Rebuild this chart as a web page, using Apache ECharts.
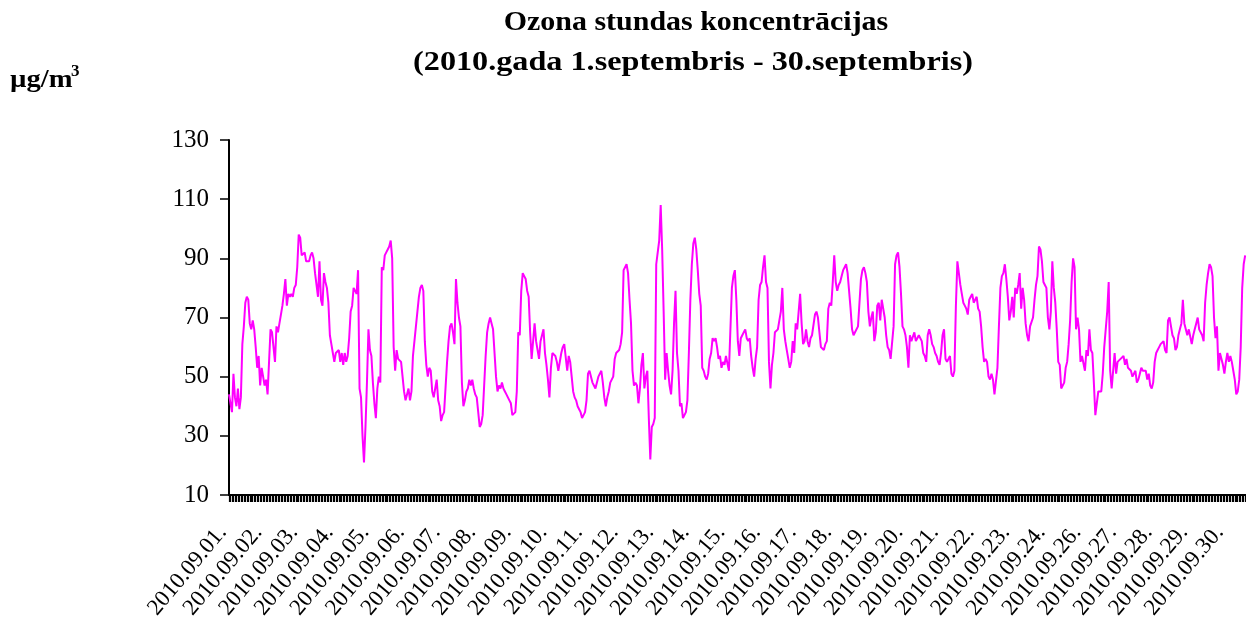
<!DOCTYPE html>
<html>
<head>
<meta charset="utf-8">
<script src="https://cdn.jsdelivr.net/npm/echarts@6/dist/echarts.min.js"></script>
<style>
  html, body { margin: 0; padding: 0; background: #fff; }
  #chart { width: 1246px; height: 617px; }
</style>
</head>
<body>
<div id="chart"></div>
<script>
// dienas (25.septembra datu nav)
const days = [
  "2010.09.01.", "2010.09.02.", "2010.09.03.", "2010.09.04.", "2010.09.05.",
  "2010.09.06.", "2010.09.07.", "2010.09.08.", "2010.09.09.", "2010.09.10.",
  "2010.09.11.", "2010.09.12.", "2010.09.13.", "2010.09.14.", "2010.09.15.",
  "2010.09.16.", "2010.09.17.", "2010.09.18.", "2010.09.19.", "2010.09.20.",
  "2010.09.21.", "2010.09.22.", "2010.09.23.", "2010.09.24.", "2010.09.26.",
  "2010.09.27.", "2010.09.28.", "2010.09.29.", "2010.09.30."
];

// stundas vērtības, µg/m3 (viena rinda = viena diena)
const ozone = [
  44, 41, 38, 51, 43, 40, 46, 39, 43, 61, 67, 75, 77, 76, 68, 66, 69, 66, 60, 53, 57, 47, 53, 50,
  47, 49, 44, 55, 66, 65, 60, 55, 67, 65, 68, 71, 74, 78, 83, 74, 78, 77, 78, 77, 80, 81, 87, 98,
  97, 91, 91, 92, 89, 89, 89, 91, 92, 90, 85, 81, 77, 89, 76, 74, 85, 82, 80, 75, 64, 61, 58, 55,
  58, 58, 59, 55, 58, 54, 58, 55, 57, 63, 72, 74, 80, 79, 78, 86, 46, 43, 30, 21, 33, 48, 66, 59,
  57, 48, 41, 36, 46, 50, 48, 87, 86, 91, 92, 93, 94, 96, 90, 60, 52, 59, 56, 56, 55, 50, 45, 42,
  44, 46, 42, 45, 57, 62, 67, 72, 77, 80, 81, 79, 62, 54, 50, 53, 52, 45, 43, 46, 49, 42, 40, 35,
  37, 38, 38, 55, 62, 67, 68, 65, 61, 83, 75, 70, 67, 48, 40, 42, 45, 46, 49, 47, 49, 46, 44, 43,
  38, 33, 34, 37, 47, 57, 65, 68, 70, 68, 66, 58, 50, 45, 47, 46, 48, 46, 45, 44, 43, 42, 41, 37,
  37, 38, 45, 65, 64, 79, 85, 84, 83, 79, 77, 65, 56, 62, 68, 62, 62, 56, 62, 64, 66, 58, 54, 49,
  43, 53, 58, 58, 57, 55, 52, 52, 58, 60, 61, 61, 52, 57, 55, 50, 45, 43, 42, 40, 39, 38, 36, 37,
  38, 42, 51, 52, 52, 48, 47, 46, 46, 50, 50, 52, 48, 43, 40, 43, 45, 48, 49, 50, 56, 58, 58, 59,
  61, 65, 86, 87, 88, 85, 76, 68, 52, 47, 48, 47, 41, 46, 54, 58, 46, 50, 52, 36, 22, 33, 34, 36,
  88, 92, 96, 108, 93, 72, 49, 58, 52, 47, 44, 52, 68, 79, 58, 52, 40, 41, 36, 37, 38, 42, 58, 76,
  88, 95, 97, 93, 86, 78, 74, 53, 52, 50, 49, 51, 56, 58, 63, 62, 63, 60, 56, 57, 53, 55, 54, 57,
  57, 52, 52, 80, 84, 86, 76, 62, 57, 63, 64, 64, 66, 63, 62, 63, 57, 53, 50, 56, 60, 76, 81, 82,
  87, 91, 82, 80, 55, 46, 54, 58, 65, 65, 66, 69, 72, 80, 66, 62, 59, 56, 53, 55, 62, 58, 68, 66,
  66, 78, 68, 61, 62, 66, 62, 60, 63, 64, 64, 71, 72, 70, 65, 60, 60, 59, 61, 62, 73, 75, 74, 82,
  91, 82, 79, 81, 82, 84, 86, 87, 88, 85, 79, 73, 66, 64, 65, 65, 67, 75, 83, 86, 87, 85, 82, 72,
  67, 70, 72, 62, 65, 74, 75, 69, 76, 76, 70, 64, 60, 59, 56, 56, 67, 88, 91, 92, 87, 78, 67, 66,
  64, 60, 53, 64, 62, 62, 65, 62, 63, 64, 64, 62, 58, 57, 55, 64, 66, 64, 61, 60, 58, 57, 55, 54,
  58, 64, 66, 56, 55, 56, 57, 51, 50, 52, 74, 89, 85, 81, 78, 75, 74, 73, 71, 76, 77, 78, 75, 75,
  77, 73, 72, 67, 60, 55, 56, 55, 50, 49, 51, 49, 44, 44, 53, 67, 80, 84, 85, 88, 83, 77, 69, 72,
  77, 70, 80, 78, 81, 85, 73, 80, 76, 68, 64, 62, 67, 67, 70, 76, 81, 84, 94, 93, 89, 82, 81, 80,
  70, 66, 72, 89, 80, 75, 66, 55, 54, 46, 47, 48, 53, 55, 61, 69, 82, 90, 87, 66, 70, 66, 55, 57,
  57, 52, 59, 57, 66, 59, 58, 48, 37, 37, 45, 45, 45, 51, 60, 66, 72, 82, 52, 46, 46, 58, 51, 55,
  55, 56, 56, 57, 54, 56, 53, 53, 52, 50, 51, 52, 48, 49, 51, 53, 52, 52, 52, 49, 51, 47, 46, 48,
  55, 58, 59, 60, 61, 61, 62, 59, 58, 69, 70, 67, 64, 63, 59, 60, 64, 66, 68, 76, 68, 68, 64, 66,
  66, 61, 64, 66, 68, 70, 66, 65, 64, 62, 75, 81, 85, 88, 87, 84, 70, 63, 67, 52, 58, 58, 54, 51,
  55, 58, 55, 57, 55, 52, 49, 44, 45, 49, 60, 80, 88, 91
];

const yMin = 10;
const yMax = 130;
const yStep = 20;

// kategorijas - katra stunda
const hours = [];
days.forEach((d) => {
  for (let h = 0; h < 24; h++) {
    hours.push(d + " " + String(h).padStart(2, "0") + ":00");
  }
});

const font = "Liberation Serif";
const myChart = echarts.init(document.getElementById("chart"));

myChart.setOption({
  animation: false,
  backgroundColor: "#fff",
  graphic: [
    {
      type: "text",
      x: 696,
      y: 9,
      scaleX: 1.07,
      style: {
        text: "Ozona stundas koncentrācijas",
        font: "bold 28px '" + font + "'",
        align: "center",
        fill: "#000",
      },
    },
    {
      type: "text",
      x: 693,
      y: 49,
      scaleX: 1.15,
      style: {
        text: "(2010.gada 1.septembris - 30.septembris)",
        font: "bold 28px '" + font + "'",
        align: "center",
        fill: "#000",
      },
    },
    {
      type: "text",
      x: 10,
      y: 67,
      scaleX: 1.1,
      style: {
        text: "µg/m",
        font: "bold 26px '" + font + "'",
        fill: "#000",
      },
    },
    {
      type: "text",
      x: 71,
      y: 63,
      style: {
        text: "3",
        font: "bold 17px '" + font + "'",
        fill: "#000",
      },
    },
  ],
  grid: {
    left: 229,
    top: 140,
    width: 1031,
    height: 355,
    outerBoundsMode: "none",
  },
  xAxis: {
    type: "category",
    data: hours,
    boundaryGap: false,
    axisLine: { lineStyle: { color: "#000", width: 2 } },
    axisTick: {
      interval: 0,
      length: 7,
      lineStyle: { color: "#000", width: 1.2 },
    },
    axisLabel: {
      interval: 23,
      rotate: 50,
      margin: 26,
      padding: [0, 10, 0, 0],
      color: "#000",
      fontFamily: font,
      fontSize: 23,
      formatter: (v) => v.split(" ")[0],
    },
    splitLine: { show: false },
  },
  yAxis: {
    type: "value",
    min: yMin,
    max: yMax,
    interval: yStep,
    axisLine: { show: true, lineStyle: { color: "#000", width: 2 } },
    axisTick: { show: true, length: 9, lineStyle: { color: "#000", width: 1.5 } },
    axisLabel: {
      margin: 20,
      color: "#000",
      fontFamily: font,
      fontSize: 25,
    },
    splitLine: { show: false },
  },
  series: [
    {
      type: "line",
      data: ozone,
      symbol: "none",
      lineStyle: { color: "#ff00ff", width: 2 },
    },
  ],
});
</script>
</body>
</html>
